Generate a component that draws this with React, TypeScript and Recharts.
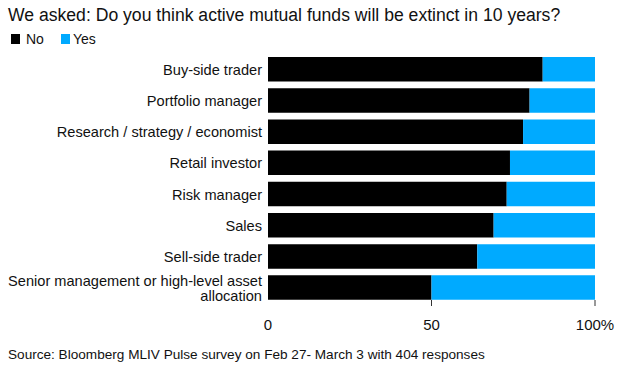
import React from 'react';
import { BarChart, Bar, XAxis, YAxis } from 'recharts';

const roles = [
  'Buy-side trader',
  'Portfolio manager',
  'Research / strategy / economist',
  'Retail investor',
  'Risk manager',
  'Sales',
  'Sell-side trader',
  'Senior management or high-level asset allocation',
];
const noShare = [84, 80, 78, 74, 73, 69, 64, 50];
const yesShare = [16, 20, 22, 26, 27, 31, 36, 50];
const xTicks = [0, 50, 100];

const FONT = '"Liberation Sans", Arial, Helvetica, sans-serif';
const BLACK = '#000000';
const BLUE = '#00aaff';

const data = roles.map((role, i) => ({ role, no: noShare[i], yes: yesShare[i] }));

// long label wraps onto two lines like the original
const wrapped: Record<string, string[]> = {
  'Senior management or high-level asset allocation': ['Senior management or high-level asset', 'allocation'],
};

function RoleTick(props: any) {
  const { x, y, payload } = props;
  const lines = wrapped[payload.value];
  if (lines) {
    return (
      <text x={x} y={y} textAnchor="end" fontSize={14.6} fontFamily={FONT} fill="#111">
        <tspan x={x} dy={-2}>{lines[0]}</tspan>
        <tspan x={x} dy={14.7}>{lines[1]}</tspan>
      </text>
    );
  }
  return (
    <text x={x} y={y} dy="0.355em" textAnchor="end" fontSize={14.6} fontFamily={FONT} fill="#111">
      {payload.value}
    </text>
  );
}

function PctTick(props: any) {
  const { x, y, payload } = props;
  return (
    <g>
      {payload.value > 0 && <line x1={x} x2={x} y1={y - 3.5} y2={y + 2.5} stroke="#333" strokeWidth={1} />}
      <text x={x} y={y + 26.5} textAnchor="middle" fontSize={15} fontFamily={FONT} fill="#111">
        {payload.value === 100 ? '100%' : payload.value}
      </text>
    </g>
  );
}

export default function App() {
  return (
    <div style={{ position: 'relative', width: 619, height: 372, background: '#fff', fontFamily: FONT, color: '#111' }}>
      <style>{'body{margin:0}'}</style>
      <div style={{ position: 'absolute', left: 8, top: 4, fontSize: 17.6, lineHeight: '22px', whiteSpace: 'nowrap' }}>
        We asked: Do you think active mutual funds will be extinct in 10 years?
      </div>
      <div style={{ position: 'absolute', left: 11, top: 30, fontSize: 14, lineHeight: '18px', display: 'flex', alignItems: 'center' }}>
        <span style={{ width: 9, height: 10, background: BLACK, display: 'inline-block', marginRight: 6 }} />
        <span style={{ marginRight: 17 }}>No</span>
        <span style={{ width: 9, height: 10, background: BLUE, display: 'inline-block', marginRight: 3 }} />
        <span>Yes</span>
      </div>
      <BarChart
        width={619}
        height={372}
        data={data}
        layout="vertical"
        margin={{ top: 54, right: 24, bottom: 38.5, left: 0 }}
      >
        <XAxis
          type="number"
          domain={[0, 100]}
          ticks={xTicks}
          axisLine={false}
          tickLine={false}
          tickSize={0}
          tickMargin={0}
          height={30}
          tick={<PctTick />}
          interval={0}
        />
        <YAxis
          type="category"
          dataKey="role"
          width={268}
          axisLine={false}
          tickLine={false}
          tickSize={0}
          tickMargin={6}
          tick={<RoleTick />}
          interval={0}
        />
        <Bar dataKey="no" stackId="a" fill={BLACK} barSize={24.5} isAnimationActive={false} />
        <Bar dataKey="yes" stackId="a" fill={BLUE} barSize={24.5} isAnimationActive={false} />
      </BarChart>
      <div style={{ position: 'absolute', left: 8, top: 346, fontSize: 13.6, lineHeight: '17px', whiteSpace: 'nowrap' }}>
        Source: Bloomberg MLIV Pulse survey on Feb 27- March 3 with 404 responses
      </div>
    </div>
  );
}
